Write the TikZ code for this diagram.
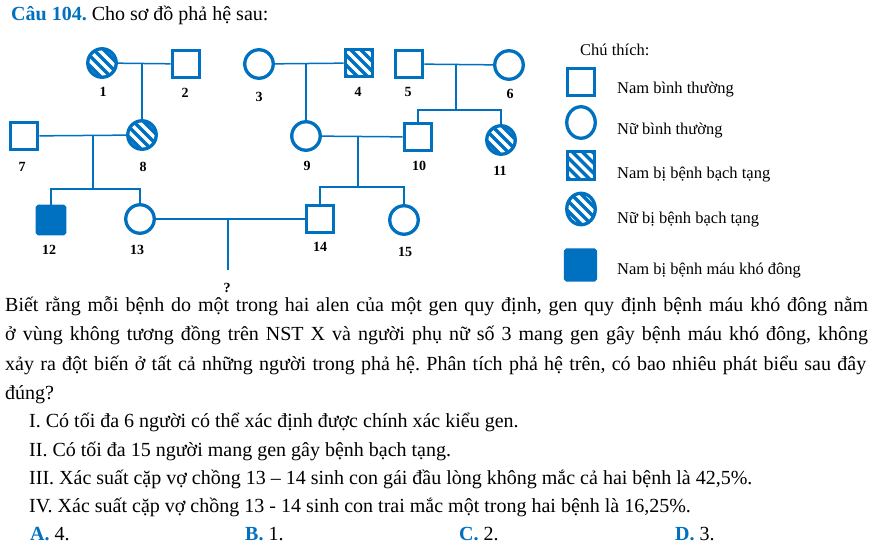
\documentclass[tikz,border=0pt]{standalone}
\usepackage{fontspec}
\setmainfont{Liberation Serif}
\usetikzlibrary{shapes.geometric}
\definecolor{pblue}{RGB}{0,112,192}
\frenchspacing
\begin{document}
\begin{tikzpicture}[x=1pt,y=-1pt,
  sym/.style={draw=pblue, line width=3.3pt, inner sep=0pt, fill=white},
  fem/.style={sym, circle, minimum size=28.5pt},
  mal/.style={sym, rectangle, minimum size=27.5pt},
  lfem/.style={sym, ellipse, minimum width=28.5pt, minimum height=31.5pt},
  hatch/.style={fill=pblue, path picture={\foreach \k in {-5,...,5} \draw[white,line width=3.4pt] ([shift={(\k*5-25,-\k*5-25)}]path picture bounding box.center) -- ++(50,50);}},
  hem/.style={sym, fill=pblue, rounded corners=1.5pt},
  lnk/.style={draw=pblue, line width=1.5pt},
  num/.style={inner sep=0pt, font=\fontsize{14}{16}\selectfont\bfseries},
  body/.style={anchor=base west, inner sep=0pt, font=\fontsize{20}{22}\selectfont},
  leg/.style={anchor=base west, inner sep=0pt, font=\fontsize{16.5}{18}\selectfont},
]
\useasboundingbox[fill=white] (0,0) rectangle (875,551);

% title
\node[body] (title) at (11,21) {\textcolor{pblue}{\bfseries Câu 104.} Cho sơ đồ phả hệ sau:};

% pedigree symbols
\node[fem, hatch] (n1) at (102,63) {};
\node[mal] (n2) at (186,64) {};
\node[fem] (n3) at (259,64) {};
\node[mal, hatch] (n4) at (359,63) {};
\node[mal] (n5) at (409,64) {};
\node[fem] (n6) at (509,65) {};
\node[mal] (n7) at (24,136) {};
\node[fem, hatch] (n8) at (142,135) {};
\node[fem] (n9) at (306,136) {};
\node[mal] (n10) at (418,137) {};
\node[fem, hatch] (n11) at (501,140) {};
\node[mal, hem] (n12) at (51,220) {};
\node[fem] (n13) at (140,219) {};
\node[mal] (n14) at (320,219) {};
\node[fem] (n15) at (404,220) {};

% labels
\node[num] (l1) at (103,92) {1};
\node[num] (l2) at (185,93) {2};
\node[num] (l3) at (259,97) {3};
\node[num] (l4) at (358,92) {4};
\node[num] (l5) at (408,92) {5};
\node[num] (l6) at (510,94) {6};
\node[num] (l7) at (22,167) {7};
\node[num] (l8) at (143,167) {8};
\node[num] (l9) at (307,166) {9};
\node[num] (l10) at (419,166) {10};
\node[num] (l11) at (500,171) {11};
\node[num] (l12) at (49,250) {12};
\node[num] (l13) at (137,250) {13};
\node[num] (l14) at (320,247) {14};
\node[num] (l15) at (405,252) {15};
\node[num] (qm) at (227,288) {?};

% connectors
\coordinate (s56) at (456,110);
\coordinate (s78) at (93,189);
\coordinate (s910) at (358,187);
\coordinate (q) at (228,270);
\draw[lnk] (n1) -- (n2);
\draw[lnk] (n8.north |- n2) -- (n8.north);
\draw[lnk] (n3) -- (n4);
\draw[lnk] (n9.north |- n3) -- (n9.north);
\draw[lnk] (n5) -- (n6);
\draw[lnk] (s56 |- n5) -- (s56);
\draw[lnk] (n10.north) -- (n10.north |- s56) -- (n11.north |- s56) -- (n11.north);
\draw[lnk] (n7) -- (n8);
\draw[lnk] (s78 |- n7) -- (s78);
\draw[lnk] (n12.north) -- (n12.north |- s78) -- (n13.north |- s78) -- (n13.north);
\draw[lnk] (n9) -- (n10);
\draw[lnk] (s910 |- n9) -- (s910);
\draw[lnk] (n14.north) -- (n14.north |- s910) -- (n15.north |- s910) -- (n15.north);
\draw[lnk] (n13) -- (n14);
\draw[lnk] (q |- n13) -- (q);

% legend
\node[leg] (lt) at (580,56) {Chú thích:};
\node[mal] (g1) at (581,82) {};
\node[lfem] (g2) at (581,122.5) {};
\node[mal, hatch] (g3) at (581,165.5) {};
\node[lfem, hatch] (g4) at (581,209) {};
\node[mal, hem, minimum size=30pt] (g5) at (580.5,265) {};
\node[leg] (t1) at (617,93) {Nam bình thường};
\node[leg] (t2) at (617,134) {Nữ bình thường};
\node[leg] (t3) at (617,178) {Nam bị bệnh bạch tạng};
\node[leg] (t4) at (617,223) {Nữ bị bệnh bạch tạng};
\node[leg] (t5) at (617,274) {Nam bị bệnh máu khó đông};

% body text
\node[body] (b1) at (5,311) {\makebox[863pt][s]{Biết rằng mỗi bệnh do một trong hai alen của một gen quy định, gen quy định bệnh máu khó đông nằm}};
\node[body] (b2) at (5,340.5) {\makebox[863pt][s]{ở vùng không tương đồng trên NST X và người phụ nữ số 3 mang gen gây bệnh máu khó đông, không}};
\node[body] (b3) at (5,370) {\makebox[861pt][s]{xảy ra đột biến ở tất cả những người trong phả hệ. Phân tích phả hệ trên, có bao nhiêu phát biểu sau đây}};
\node[body] (b4) at (5,399) {đúng?};
\node[body] (i1) at (29,427) {I. Có tối đa 6 người có thể xác định được chính xác kiểu gen.};
\node[body] (i2) at (29,456) {II. Có tối đa 15 người mang gen gây bệnh bạch tạng.};
\node[body] (i3) at (29,484) {III. Xác suất cặp vợ chồng 13 – 14 sinh con gái đầu lòng không mắc cả hai bệnh là 42,5\%.};
\node[body] (i4) at (29,512) {IV. Xác suất cặp vợ chồng 13 - 14 sinh con trai mắc một trong hai bệnh là 16,25\%.};
\node[body] (a) at (30,540) {\textcolor{pblue}{\bfseries A.} 4.};
\node[body] (b) at (245,540) {\textcolor{pblue}{\bfseries B.} 1.};
\node[body] (c) at (459,540) {\textcolor{pblue}{\bfseries C.} 2.};
\node[body] (d) at (675,540) {\textcolor{pblue}{\bfseries D.} 3.};
\end{tikzpicture}
\end{document}
